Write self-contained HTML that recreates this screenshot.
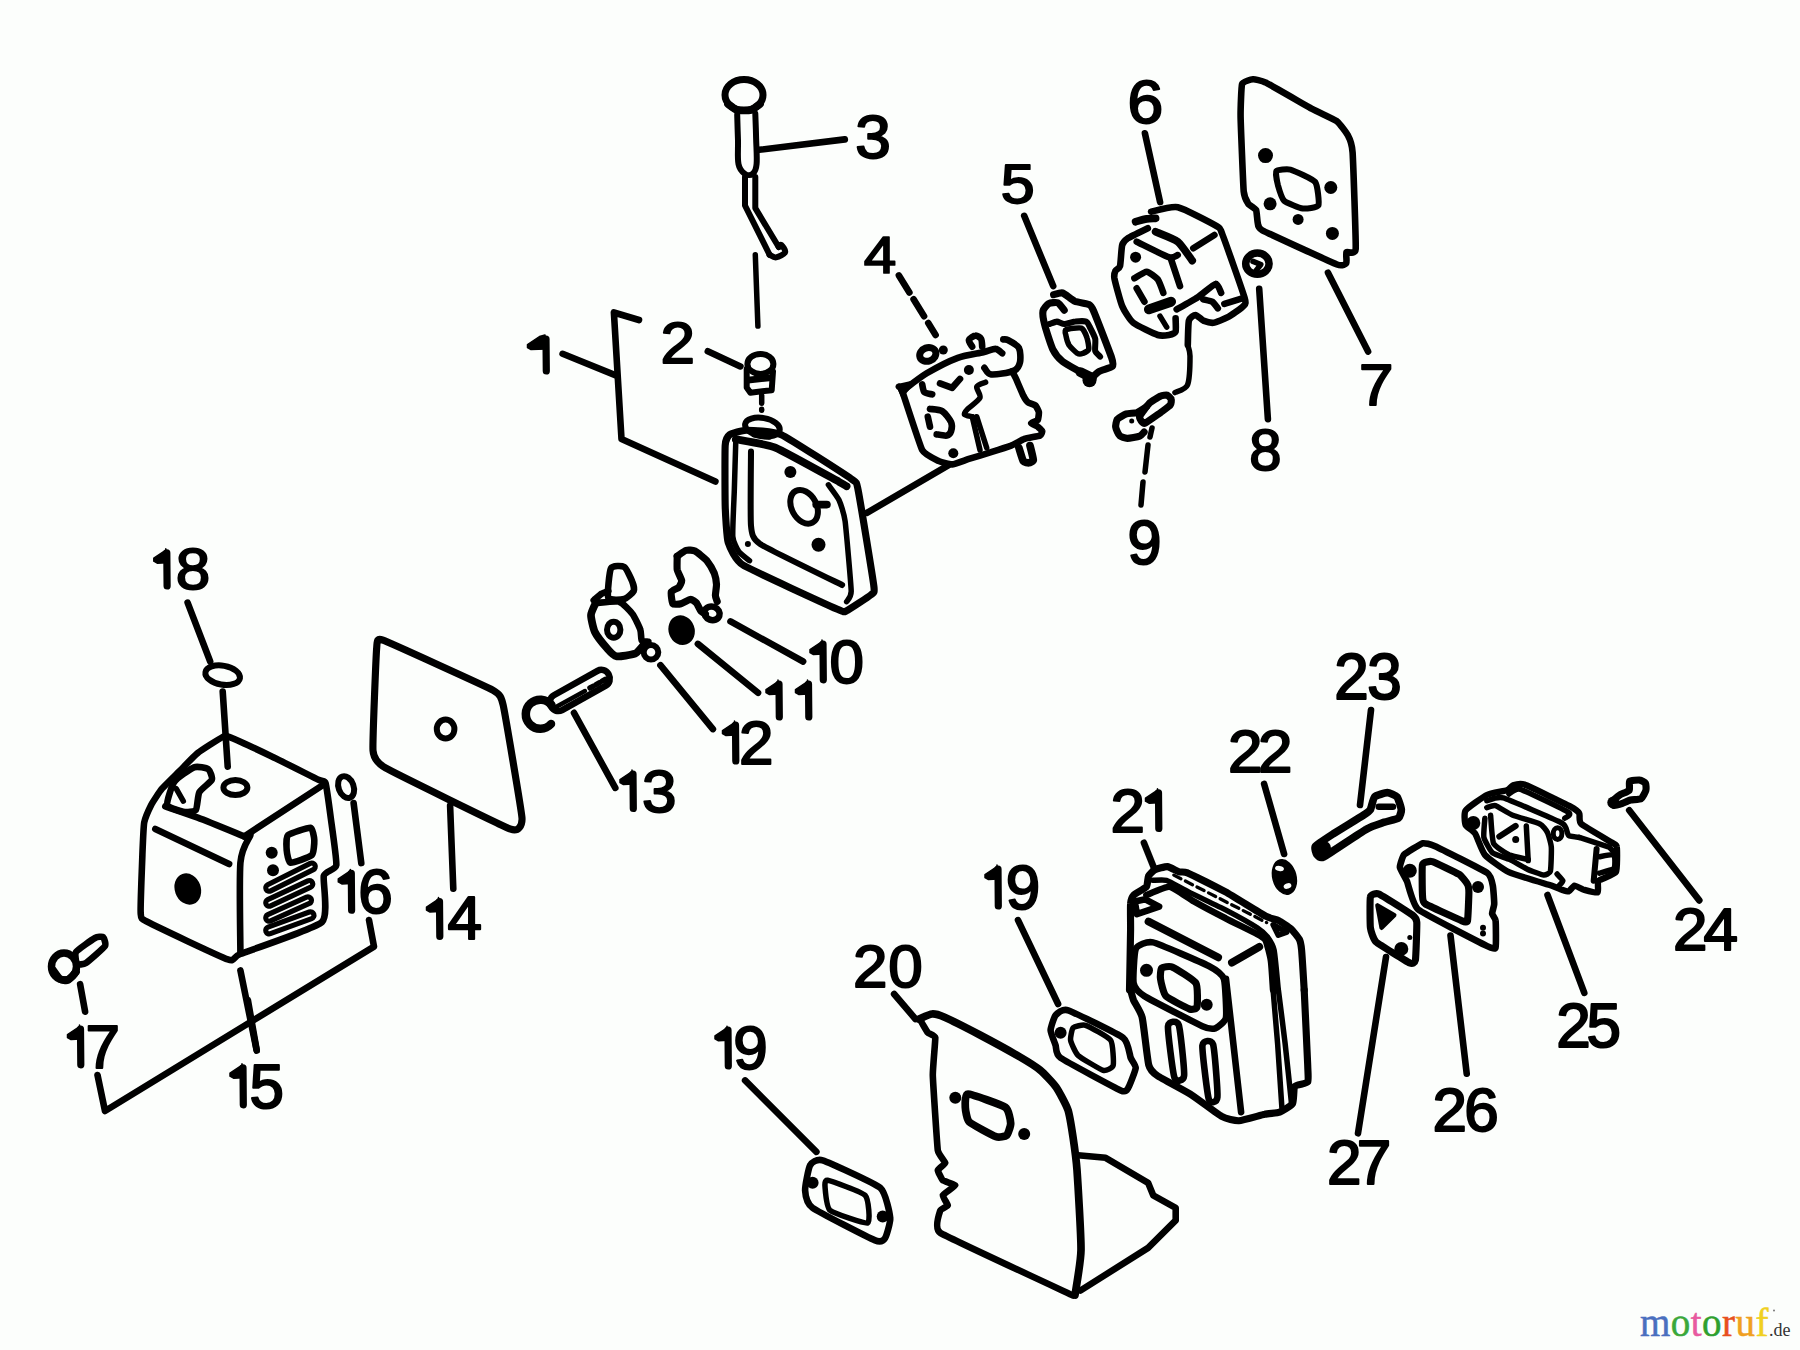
<!DOCTYPE html>
<html><head><meta charset="utf-8"><title>parts diagram</title>
<style>html,body{margin:0;padding:0;background:#fcfefc;} svg{display:block}</style></head>
<body><svg width="1800" height="1350" viewBox="0 0 1800 1350">
<rect width="1800" height="1350" fill="#fcfefc"/>
<g fill="none" stroke="#000" stroke-width="6" stroke-linecap="round" stroke-linejoin="round">
<ellipse cx="744" cy="95" rx="19" ry="15.5" transform="rotate(0 744 95)" stroke-width="7"/>
<path d="M728 104 C728.9 104.6 734.7 109.4 737 110 C739.3 110.6 748.7 110.6 751 110 C753.3 109.4 759.1 104.6 760 104" stroke-width="7.70"/>
<path d="M737.2 114.8 C737.3 119.1 737.7 132.5 738 140.7 C738.2 148.9 737.3 158.5 738.5 164.1 C739.6 169.6 742.6 172.3 745 173.9 C747.3 175.5 750.8 175.5 752.7 173.9 C754.7 172.3 756.1 170 756.6 164.1 C757.2 158.1 756.3 146.6 756.1 138.1 C755.9 129.7 755.5 117.6 755.3 113.5"/>
<path d="M745 177 L745 205.5 L769.6 254.8"/>
<path d="M755.3 177 L755.3 208.1 L778.7 247"/>
<path d="M769.6 254.8 C770.7 255.2 773.5 257.8 776.1 257.4 C778.7 256.9 784.3 254.3 785.1 252.2 C786 250.1 782.3 245.8 781.2 244.9 C780.2 244.1 779.1 246.7 778.7 247"/>
<path d="M759.2 149.8 L844.8 139.4" stroke-width="6.60"/>
<path d="M755.3 254.8 L757.9 326.1" stroke-width="5.50"/>
<ellipse cx="760.4" cy="363.9" rx="13" ry="10" transform="rotate(0 760.4 363.9)"/>
<path d="M746.7 368.9 L746.7 387.6 L750.4 392.7 L771.7 390.2 L773 371.4"/>
<path d="M747.9 380.1 L771.7 377.6" stroke-width="6.60"/>
<path d="M761.7 395.2 L761.7 410.2" stroke-width="5.50" stroke-dasharray="8 6"/>
<path d="M707.8 351.3 L740.4 366.4" stroke-width="6.60"/>
<path d="M562.6 353.8 L615.2 375.1" stroke-width="6.60"/>
<path d="M639 320 L613.9 312.5 L621.5 439 L715.4 481.6" stroke-width="6.60"/>
<path d="M729.7 434.7 C731.3 433.6 742.6 430.2 746.4 430.2 C750.3 430.2 773.5 431.1 781.3 434.7 C789.2 438.4 845.4 474.7 851.2 478.8 C856.9 482.8 856.3 481.3 858 489.4 C859.7 497.5 873 578.6 873.9 586.5 C874.9 594.4 872.9 593 870.9 594.9 C868.8 596.7 849.1 609.7 846.6 610.8 C844.1 611.9 845.2 612.7 837.5 609.3 C829.8 605.9 751.6 570.3 743.4 565.3 C735.2 560.3 729.6 546.9 728.2 542.5 C726.8 538.1 725.4 513.4 725.2 506.1 C725 498.8 724.8 450.7 725.2 445.4 C725.5 440 728.1 435.9 729.7 434.7 Z" stroke-width="7.15"/>
<path d="M735.8 440.8 C735.7 445 734.5 482.9 734.3 490.9 C734 498.9 732.4 531.4 732.8 536.4 C733.1 541.5 737.4 549.6 738.8 551.6 C740.2 553.6 748.6 560 749.5 560.7" stroke-width="5.50"/>
<path d="M735.8 439.3 C739.1 440 766.7 444.1 775.3 447.6 C783.9 451.2 833.1 478.6 839 481.8 C845 485 846 486 846.6 486.3" stroke-width="7.70"/>
<path d="M828.4 484.8 C829.3 486.1 837.6 497 839 500 C840.4 503 844.1 513.7 845.1 521.2 C846.1 528.8 851 584.4 851.2 591.1 C851.3 597.8 847 600.8 846.6 601.7" stroke-width="5.50"/>
<path d="M751 451.4 C751 457.6 750.2 518.1 751 525.8 C751.7 533.5 752.5 539.1 760.1 544 C767.7 549 835.2 581.6 842.1 585" stroke-width="6.05"/>
<ellipse cx="804.1" cy="506.8" rx="12.4" ry="17.9" transform="rotate(-28 804.1 506.8)" stroke-width="6"/>
<path d="M816.2 504.6 L826.9 504.6" stroke-width="7.70"/>
<circle cx="790.4" cy="471.9" r="6" fill="#000" stroke="none"/>
<circle cx="818.5" cy="544.8" r="7" fill="#000" stroke="none"/>
<circle cx="747.9" cy="544" r="3" fill="#000" stroke="none"/>
<ellipse cx="762.4" cy="427.1" rx="17.5" ry="9.1" transform="rotate(10 762.4 427.1)" stroke-width="6"/>
<path d="M754 434.7 L769.2 437" stroke-width="5.50"/>
<path d="M866.9 512.9 L948.2 465.3" stroke-width="6.60"/>
<path d="M902.2 391.1 C905.5 388.7 919.3 377.8 926.7 373.3 C934.1 368.9 950.2 360.6 957.8 357.8 C965.3 355 978.3 353.4 983.3 352.2 C988.4 351 993 348.7 995.6 348.9 C998.1 349 1001.3 352.7 1002.2 353.3" stroke-width="6.60"/>
<path d="M898.9 386.7 C899.1 387 900.7 386.9 902.2 391.1 C903.8 395.3 919.8 445.3 922.2 450 C924.7 454.7 936.9 460.1 938.9 461.1 C940.9 462.1 950.2 464.6 952.2 464.4 C954.2 464.3 966.3 459.7 968.9 458.9 C971.5 458.1 988.3 453.1 991.1 452.2 C993.9 451.3 1008.9 446.4 1011.1 445.6 C1013.3 444.7 1022.5 439.6 1024.4 438.9 C1026.4 438.2 1038.8 436.1 1040 435.6 C1041.2 435 1042.4 431.7 1042.2 431.1 C1042.1 430.5 1038.5 427.2 1037.8 426.7 C1037 426.1 1031.1 423.8 1031.1 423.3 C1031.1 422.9 1037.3 420.7 1037.8 420 C1038.3 419.3 1039 413.2 1038.9 412.2 C1038.7 411.3 1036.3 406.2 1035.6 405.6 C1034.8 404.9 1028.6 402.9 1027.8 402.2 C1027 401.6 1024.1 397.2 1023.3 395.6 C1022.5 393.9 1016.3 379.4 1015.6 377.8 C1014.8 376.1 1012.4 371.6 1012.2 371.1" stroke-width="6.60"/>
<path d="M897.8 385.6 L913.3 382.2 L902.2 395.6 Z" stroke-width="3.30" fill="#000"/>
<path d="M984.4 367.8 C985.3 368.7 987.3 374 991.1 374.4 C995 374.9 1009.5 372.7 1013.3 371.1 C1017.2 369.5 1019.3 365.3 1020 362.2 C1020.7 359.1 1020.5 350.7 1018.9 347.8 C1017.3 344.8 1009.9 341.1 1007.8 340 C1005.7 338.9 1003.9 339.5 1003.3 339.4" stroke-width="6.60"/>
<path d="M972.2 346.7 C971.8 345.8 968.4 341.5 968.9 340 C969.3 338.5 973.9 335.7 975.6 335.6 C977.2 335.4 980.2 337.4 981.1 338.9 C982 340.4 982.1 345.6 982.2 346.7" stroke-width="6.60"/>
<ellipse cx="927.8" cy="354.4" rx="8.3" ry="6.7" transform="rotate(-20 927.8 354.4)" stroke-width="7"/>
<circle cx="943.3" cy="350" r="4.5" fill="#000" stroke="none"/>
<path d="M930 408.9 C931.6 409.2 939.4 409.3 942.2 411.1 C945 412.9 949.9 419.6 951.1 422.2 C952.3 424.9 951.7 429.3 951.1 431.1 C950.5 432.9 948.6 435.1 946.7 435.6 C944.7 436 938 434.6 936.7 434.4" stroke-width="6.60"/>
<path d="M927.8 416.7 L930 426.7" stroke-width="6.60"/>
<path d="M985.6 382.2 C984.4 382.8 977.4 384.6 976.7 386.7 C975.9 388.7 981.2 394.8 980 397.8 C978.8 400.7 969.9 406.7 967.8 408.9 C965.7 411.1 963.9 413.4 964.4 414.4 C965 415.5 971.2 416.4 972.2 416.7" stroke-width="5.50"/>
<path d="M972.2 416.7 L980 450" stroke-width="5.50"/>
<path d="M976.7 416.7 L986.7 447.8" stroke-width="5.50"/>
<path d="M940 383.3 L952.2 387.8 L960 378.9" stroke-width="6.60"/>
<path d="M922.2 384.4 C922.5 385.5 923.1 390.9 924.4 392.2 C925.8 393.6 931.2 394.1 932.2 394.4" stroke-width="6.60"/>
<circle cx="968.9" cy="370" r="5" fill="#000" stroke="none"/>
<circle cx="953.3" cy="453.3" r="5" fill="#000" stroke="none"/>
<path d="M1018.9 447.8 C1019.3 448.9 1022.5 459.9 1023.3 461.1 C1024.2 462.4 1028.1 462.9 1028.9 462.8 C1029.7 462.7 1033.2 461.4 1033.3 460 C1033.4 458.6 1030.3 446.8 1030 445.6" stroke-width="7.70"/>
<path d="M898.9 275.4 L935.6 335" stroke-width="6.60" stroke-dasharray="20 8"/>
<path d="M1053.6 294.7 C1054.5 294.5 1060.5 292.4 1062.6 293 C1064.7 293.7 1072.2 300 1074.8 301.2 C1077.4 302.3 1086.8 303.5 1088.7 304.4 C1090.6 305.4 1091.3 305.7 1093.6 311 C1095.9 316.3 1109.6 351.9 1111.5 357.4 C1113.4 363 1113.5 365 1112.3 366.4 C1111.1 367.8 1101.3 370.1 1099.3 371.3 C1097.2 372.4 1092.7 377.1 1091.9 377.8" stroke-width="7.15"/>
<path d="M1080.5 372.1 C1078.7 371 1065.4 363.8 1062.6 361.5 C1059.8 359.2 1054.6 352.9 1052.8 349.3 C1051 345.6 1045.6 328.7 1044.7 324.8 C1043.7 321 1042.6 313.1 1043 311 C1043.4 308.9 1047.3 304.4 1048.7 303.6 C1050.2 302.8 1056.2 302.2 1057.7 302.8 C1059.3 303.5 1063.6 309.4 1064.2 310.2" stroke-width="7.15"/>
<path d="M1049.6 324 C1050.3 323.8 1055.4 321.6 1056.9 321.6 C1058.4 321.6 1062.4 324 1064.2 324 C1066.1 324 1073.4 321.8 1075.6 321.6 C1077.8 321.3 1084.8 321.1 1086.2 321.6 C1087.6 322.1 1088.6 324.7 1089.5 326.5 C1090.4 328.2 1094.6 336.2 1095.2 338.7 C1095.8 341.1 1094.7 349.1 1095.2 350.9 C1095.7 352.7 1099.6 356 1100.1 356.6" stroke-width="6.05"/>
<path d="M1065.9 329.7 C1067.4 329 1079.2 327.3 1081.3 328.1 C1083.5 328.9 1086.3 335.7 1087 337.9 C1087.8 340 1089.1 347.7 1088.7 349.3 C1088.3 350.8 1084.1 352.9 1083 353.3 C1081.8 353.8 1078.7 354.2 1077.3 353.3 C1075.9 352.5 1070.3 347 1069.1 345.2 C1068 343.4 1066.2 337 1065.9 335.4 C1065.5 333.9 1064.3 330.4 1065.9 329.7 Z" stroke-width="5.50"/>
<circle cx="1089.5" cy="380.2" r="7" fill="#000" stroke="none"/>
<path d="M1080.5 372.1 L1091.9 377.8" stroke-width="9.90"/>
<path d="M1024.2 215.8 L1053.2 286.1" stroke-width="6.60"/>
<path d="M1151.1 211.7 C1153.8 211.2 1171.2 205.8 1177.8 207.2 C1184.3 208.7 1212.2 223.4 1216.7 226.1 C1221.1 228.8 1219.4 226.8 1222.2 233.9 C1225 241 1242.3 290 1244.4 297.2 C1246.6 304.4 1245 304.1 1243.3 306.1 C1241.7 308.1 1230.8 315.6 1227.8 317.2 C1224.8 318.9 1215.8 322.4 1213.3 322.8 C1210.9 323.1 1205.1 321.3 1203.3 320.6 C1201.6 319.8 1197 315 1195.6 315 C1194.1 315 1189.7 317.6 1188.9 320.6 C1188.1 323.6 1187.9 342.6 1187.8 345" stroke-width="6.60"/>
<path d="M1147.8 228.3 C1145.8 229.3 1130.3 236.7 1127.8 238.3 C1125.2 240 1123 242.2 1122.2 245 C1121.4 247.8 1120.7 263.6 1120 266.1 C1119.3 268.7 1116.1 269.3 1115.6 270.6 C1115 271.8 1113.8 274.8 1114.4 278.3 C1115.1 281.9 1120.3 301.7 1122.2 306.1 C1124.1 310.6 1129.8 319.9 1133.3 322.8 C1136.9 325.7 1154.2 333.8 1157.8 335 C1161.3 336.2 1167.1 335.3 1168.9 335 C1170.7 334.7 1174.9 333.3 1175.6 331.7 C1176.2 330 1175.6 319.7 1175.6 318.3" stroke-width="6.60"/>
<path d="M1135.6 221.7 C1136.7 221.4 1144.7 219.2 1146.7 218.9 C1148.7 218.6 1154.7 218.4 1155.6 218.3" stroke-width="7.70"/>
<path d="M1136.7 241.7 C1139.9 243.2 1164.8 255.9 1168.9 257.2 C1173 258.6 1176.9 255.2 1177.8 255" stroke-width="6.60"/>
<path d="M1155.6 231.7 C1157.8 232.7 1174.1 238.8 1177.8 241.7 C1181.4 244.6 1190.8 258.7 1192.2 260.6" stroke-width="7.70"/>
<path d="M1193.3 248.3 L1214.4 235" stroke-width="6.60"/>
<path d="M1171.1 259.4 L1180 286.1" stroke-width="6.60"/>
<circle cx="1135.6" cy="257.2" r="5.5" fill="#000" stroke="none"/>
<path d="M1134.4 278.3 C1135.7 277.7 1144.3 271.6 1146.7 271.7 C1149 271.8 1156.1 277.3 1157.8 279.4 C1159.4 281.6 1162.8 291.4 1163.3 292.8" stroke-width="6.60"/>
<path d="M1136.7 288.3 L1144.4 301.7" stroke-width="6.60"/>
<path d="M1176.7 309.4 C1178.8 308.2 1193.9 299.8 1197.8 297.2 C1201.7 294.7 1213.2 284.3 1215.6 283.9 C1217.9 283.4 1220.6 291.9 1221.1 292.8" stroke-width="6.60"/>
<path d="M1203.3 299.4 C1204.2 299.7 1210.8 300.8 1212.2 301.7 C1213.7 302.6 1217.2 307.7 1217.8 308.3" stroke-width="6.60"/>
<path d="M1224.4 303.9 L1242.2 298.3" stroke-width="6.60"/>
<path d="M1148.9 309.4 L1171.1 301.7" stroke-width="9.90"/>
<path d="M1160 316.1 L1166.7 327.2" stroke-width="5.50"/>
<path d="M1187.8 345 C1188.1 346.5 1190 350.7 1190 356 C1190 361.3 1189.5 380.1 1187.5 385 C1185.5 389.9 1176.7 391.5 1175 392.5" stroke-width="5.50"/>
<path d="M1144.9 133.3 L1160.1 202.1" stroke-width="6.60"/>
<path d="M1144.1 432.1 C1143.7 432.5 1141.4 435.5 1139.7 436.1 C1138 436.7 1129.2 438.4 1127.2 438.3 C1125.2 438.3 1120.8 436.8 1119.7 435.7 C1118.5 434.6 1115.9 428.9 1115.7 427.2 C1115.4 425.6 1116.4 420.6 1117.4 419.2 C1118.5 417.9 1124.4 414.6 1126.3 413.9 C1128.3 413.2 1135 413.3 1137 412.6 C1139 411.8 1145.4 407.4 1146.3 406.8" stroke-width="7.15"/>
<path d="M1149.4 403.2 C1151.2 401.6 1159.1 396.8 1160.6 396.1 C1162 395.4 1166.3 395 1167.2 395.2 C1168.1 395.5 1171 398.4 1171.2 399.2 C1171.5 400 1171.2 403.9 1170.3 405 C1169.4 406.1 1162.7 411 1160.6 412.6 C1158.4 414.1 1146.6 422.6 1145 423.2 C1143.4 423.9 1141.4 421.1 1141 420.6 C1140.6 420 1139 417.6 1139.7 416.1 C1140.4 414.7 1147.7 404.9 1149.4 403.2 Z" stroke-width="7.15"/>
<circle cx="1131.7" cy="421" r="2.5" fill="#000" stroke="none"/>
<path d="M1152 428 L1150 437" stroke-width="5.50"/>
<path d="M1148 445 L1145 472" stroke-width="5.50"/>
<path d="M1143 482 L1141 505" stroke-width="5.50"/>
<ellipse cx="1257.4" cy="263.7" rx="11.7" ry="10.6" transform="rotate(0 1257.4 263.7)" stroke-width="7.5"/>
<path d="M1253 261.4 L1260.8 264.5 L1256.1 270.7" stroke-width="5.50"/>
<path d="M1259.2 288.9 L1267.9 419.1" stroke-width="6.60"/>
<path d="M1328 272.7 L1368.1 351.5" stroke-width="6.60"/>
<path d="M1242.1 84 C1242.9 81.5 1251.5 79.4 1253 79.3 C1254.6 79.2 1261.5 80.5 1265.5 82.4 C1269.4 84.4 1307.4 106.3 1312.1 108.9 C1316.9 111.5 1334.6 119.6 1337 121.3 C1339.4 123.1 1346.9 133.3 1347.9 135.4 C1349 137.4 1352.1 144.9 1352.6 152.5 C1353.1 160 1356.1 242.3 1355.7 248.9 C1355.3 255.6 1347 251.1 1346.4 252.1 C1345.7 253 1347 262.1 1346.4 262.9 C1345.7 263.8 1342.6 266.7 1337 264.5 C1331.4 262.3 1267.6 233.1 1262.3 230.3 C1257.1 227.5 1258.1 223.8 1257.7 222.5 C1257.3 221.1 1256.7 211.3 1256.1 210 C1255.5 208.8 1249.2 205.1 1248.3 203.8 C1247.5 202.6 1244.2 197.2 1243.7 191.4 C1243.2 185.6 1240.7 123.8 1240.6 116.7 C1240.5 109.5 1241.3 86.5 1242.1 84 Z" stroke-width="6.60"/>
<circle cx="1265.5" cy="155.6" r="7.5" fill="#000" stroke="none"/>
<circle cx="1330.8" cy="187.5" r="6.5" fill="#000" stroke="none"/>
<circle cx="1270.1" cy="203.8" r="6.5" fill="#000" stroke="none"/>
<circle cx="1298.1" cy="219.4" r="5.5" fill="#000" stroke="none"/>
<circle cx="1332.4" cy="233.4" r="6.5" fill="#000" stroke="none"/>
<path d="M1276.3 171.1 C1277.4 169.8 1287.1 168.7 1290.4 169.6 C1293.6 170.5 1312.9 179.1 1315.2 182 C1317.6 185 1319.4 203.2 1318.4 205.4 C1317.3 207.6 1305.7 208.9 1302.8 208.5 C1299.9 208.1 1286.2 202.7 1284.1 200.7 C1282.1 198.8 1278.6 187.6 1277.9 185.1 C1277.3 182.7 1275.3 172.4 1276.3 171.1 Z" stroke-width="6.05"/>
<path d="M677.2 556.3 C678.1 555.7 684.3 550.9 686.1 550.4 C687.9 549.9 692.9 550.1 695 551.1 C697.1 552.1 704.9 558.5 706.9 560.7 C708.8 563 713.3 571 714.3 573.3 C715.2 575.7 716.4 582.2 716.5 584.4 C716.6 586.7 715.3 593.9 715.4 595.6 C715.4 597.3 717 600.9 717.2 601.5" stroke-width="7.15"/>
<path d="M677.2 556.3 C677.2 557.4 676.9 567.6 677.2 569.6 C677.6 571.7 681.5 579.3 681.7 580.7 C681.8 582.2 679.6 586.5 678.7 587.4 C677.8 588.3 671.8 590.5 671.3 591.9 C670.8 593.2 672 602.7 672.8 603.7 C673.6 604.7 679.4 604.1 680.9 603.7 C682.4 603.3 689.3 599.3 690.6 599.3 C691.9 599.2 695.6 602 696.5 603 C697.3 604 700.2 610.2 700.9 611.1 C701.7 612 705 613.8 705.4 614.1" stroke-width="7.15"/>
<ellipse cx="712" cy="613.3" rx="7.8" ry="6.7" transform="rotate(20 712 613.3)" stroke-width="6.5"/>
<ellipse cx="681.6" cy="630.2" rx="10" ry="12" transform="rotate(-20 681.6 630.2)" fill="#000"/>
<path d="M611 568.3 C612.6 565.3 622.2 565.7 624.3 567 C626.5 568.3 631.4 579.3 632.3 581.7 C633.3 584.1 634.5 589.3 633.7 591 C632.9 592.7 626.9 598.3 624.3 599 C621.8 599.7 609.7 600.7 608.3 597.7 C607 594.6 609.4 571.4 611 568.3 Z" stroke-width="6.60"/>
<path d="M593.7 600.3 C594.5 599.7 600.2 594.6 601.7 593.7 C603.1 592.7 607.7 591.3 608.3 591" stroke-width="6.60"/>
<path d="M596.3 601.7 C595.8 603 591.1 611.9 591 615 C590.9 618.1 593.4 629 595 632.3 C596.6 635.7 604.9 645.9 607 648.3 C609.1 650.7 613.5 655.8 616.3 656.3 C619.1 656.9 632.3 654.7 635 653.7 C637.7 652.6 642.2 646.5 643 645.7" stroke-width="7.70"/>
<path d="M596.3 603 C598.6 602.9 615.4 600.6 619 601.7 C622.6 602.7 630.2 610.9 632.3 613.7 C634.5 616.5 639.4 627 640.3 629.7 C641.3 632.3 640.9 639.1 641.7 640.3 C642.5 641.5 647.7 641.5 648.3 641.7" stroke-width="6.60"/>
<ellipse cx="613.7" cy="629.7" rx="6.7" ry="8" transform="rotate(0 613.7 629.7)" stroke-width="6"/>
<ellipse cx="651" cy="652.3" rx="7.3" ry="7.3" transform="rotate(0 651 652.3)" stroke-width="6"/>
<path d="M551.5 705 A14.5 14.5 0 1 0 551 724" stroke-width="8.5"/>
<rect x="551" y="697" width="66" height="17" rx="8" transform="rotate(-29.2 553 706)" stroke-width="6.5"/>
<path d="M556 707 L585 691" stroke-width="4.40"/>
<path d="M590 688 L608 678" stroke-width="5.50" stroke-dasharray="4 3"/>
<path d="M730.5 621.4 L803.1 661.5" stroke-width="6.60"/>
<path d="M697.9 643.9 L758 692.8" stroke-width="6.60"/>
<path d="M660.4 665.2 L712.9 729.1" stroke-width="6.60"/>
<path d="M574 712.8 L615.3 787.9" stroke-width="6.60"/>
<path d="M383 640.2 C389.8 642.7 486.1 686.5 493.2 690.3 C500.2 694.1 501.5 697.8 503.2 705.3 C504.9 712.7 521.5 810.7 522 818 C522.4 825.2 518.6 832.2 510.7 829.2 C502.7 826.3 393.5 772.5 385.5 767.9 C377.4 763.3 373.5 757.4 373 750.4 C372.4 743.4 376.1 654.1 376.7 647.7 C377.3 641.3 376.2 637.7 383 640.2 Z" stroke-width="7.15"/>
<ellipse cx="445.6" cy="729.1" rx="8.8" ry="9.5" transform="rotate(0 445.6 729.1)"/>
<path d="M450.1 805.6 L453.3 888.6" stroke-width="6.60"/>
<ellipse cx="222.7" cy="675.2" rx="17.5" ry="9.5" transform="rotate(10 222.7 675.2)"/>
<path d="M187.6 602.6 L210.2 661.5" stroke-width="6.60"/>
<path d="M222.7 691.5 L227.7 766.6" stroke-width="6.60"/>
<path d="M222.5 737.1 C219.8 738.4 201.1 750.3 197.6 753.1 C194 755.9 182.8 767.9 179.8 770.9 C176.8 773.9 164.4 785.9 162 788.7 C159.6 791.5 152.8 801.9 151.3 804.7 C149.9 807.5 145 818.3 144.2 822.5 C143.5 826.6 142.7 846.9 142.4 854.5 C142.2 862 140.2 907.5 140.7 913.1 C141.1 918.8 140.5 918.2 147.8 922 C155 925.9 220.1 956.7 227.8 959.4 C235.5 962 232.4 957.2 240.2 954 C248.1 950.9 315.1 928.6 322 922 C329 915.5 322.6 880.6 323.8 875.8 C325 871.1 335.7 869.9 336.3 865.1 C336.9 860.4 331.8 825.7 330.9 818.9 C330 812.1 326.6 786.6 325.6 783.3 C324.6 780.1 322.9 782 318.5 779.8 C314 777.6 279.7 760.2 272.3 756.7 C264.8 753.1 233.7 738.7 229.6 737.1 C225.4 735.5 225.1 735.8 222.5 737.1 Z" stroke-width="6.60"/>
<path d="M165.3 806.4 C169.6 807.9 187.3 813.7 197.8 817.7 C208.3 821.7 238 833.9 244.2 836.4" stroke-width="6.60"/>
<path d="M244.2 836.4 L323 785.1" stroke-width="6.60"/>
<path d="M250.4 835.2 C249.1 838.9 241.7 847 240.4 862.7 C239.1 878.4 240.4 940.9 240.4 952.9" stroke-width="6.60"/>
<path d="M155.3 828.9 L229.1 864" stroke-width="6.60"/>
<ellipse cx="187.8" cy="889" rx="10" ry="13" transform="rotate(-20 187.8 889)" fill="#000"/>
<ellipse cx="235.4" cy="787.6" rx="12" ry="7.5" transform="rotate(0 235.4 787.6)" stroke-width="6"/>
<path d="M167.3 804.7 C166.5 801.7 171.8 785.3 174.5 781.6 C177.1 777.8 190.6 768.6 194 767.3 C197.4 766.1 206.5 767.9 208.2 769.1 C210 770.4 212.7 777.5 211.8 779.8 C210.9 782.1 200.9 789.2 199.3 792.2 C197.7 795.3 197.4 808.1 195.8 810 C194.2 812 186.2 812.3 183.3 811.8 C180.5 811.3 168.2 807.7 167.3 804.7 Z" stroke-width="6.60"/>
<path d="M176.2 788.7 L183.3 801.1" stroke-width="5.50"/>
<path d="M288 835.2 C290 833.3 308.3 827.3 310.5 827.7 C312.7 828.1 314.2 837.9 314.3 840.2 C314.4 842.5 313.8 853.3 311.8 855.2 C309.8 857.1 292.6 863.2 290.5 862.7 C288.4 862.3 286.9 852.5 286.7 850.2 C286.5 847.9 286 837.1 288 835.2 Z" stroke-width="6.60"/>
<circle cx="271.7" cy="852.7" r="6" fill="#000" stroke="none"/>
<circle cx="273" cy="870.3" r="6" fill="#000" stroke="none"/>
<path d="M269.2 887.8 L311.8 866.5" stroke-width="12.10"/>
<path d="M269.2 887.8 L311.8 866.5" stroke-width="1.76" stroke="#fcfefc"/>
<path d="M269.2 902.8 L309.3 884" stroke-width="12.10"/>
<path d="M269.2 902.8 L309.3 884" stroke-width="1.76" stroke="#fcfefc"/>
<path d="M269.2 917.8 L308 900.3" stroke-width="12.10"/>
<path d="M269.2 917.8 L308 900.3" stroke-width="1.76" stroke="#fcfefc"/>
<path d="M269.2 930.4 L310.5 915.3" stroke-width="12.10"/>
<path d="M269.2 930.4 L310.5 915.3" stroke-width="1.76" stroke="#fcfefc"/>
<ellipse cx="346.1" cy="787.1" rx="7.5" ry="11.3" transform="rotate(-20 346.1 787.1)" stroke-width="6"/>
<path d="M353.6 803 L361.3 863.1" stroke-width="6.60"/>
<path d="M369 920 L374 946.6 L105 1111 L97.5 1075" stroke-width="6.60"/>
<path d="M240.4 970.4 L256.7 1050.6" stroke-width="6.60"/>
<path d="M247.9 1000 L256.7 1050.1" stroke-width="6.60"/>
<ellipse cx="64" cy="966.5" rx="12.5" ry="13.5" transform="rotate(0 64 966.5)" stroke-width="7.5"/>
<path d="M53 970 C53.7 970.9 58.5 978 60 979 C61.5 980 66.4 980.7 68 980 C69.6 979.3 75.2 972.8 76 972" stroke-width="7.70"/>
<path d="M76 952 C77.5 949.8 92.8 939.2 95 938 C97.2 936.8 102.2 936.3 103 937 C103.8 937.7 106.4 943.8 105 946 C103.6 948.2 88.3 961.5 86 963 C83.7 964.5 77.8 964.9 77 964 C76.2 963.1 74.5 954.2 76 952 Z" stroke-width="6.60"/>
<path d="M80.1 984.2 L85.1 1011.7" stroke-width="6.60"/>
<path d="M1055.6 1015.3 C1057.1 1013.6 1062.5 1008.4 1068.1 1010.3 C1073.7 1012.2 1118 1033.9 1123.2 1037.8 C1128.4 1041.8 1129.7 1055.4 1130.7 1057.9 C1131.8 1060.4 1135.9 1065.4 1135.7 1067.9 C1135.5 1070.4 1129.5 1086 1128.2 1087.9 C1127 1089.8 1126.3 1092.9 1120.7 1090.4 C1115.1 1087.9 1066 1061.6 1060.6 1057.9 C1055.2 1054.1 1056.4 1047.6 1055.6 1045.3 C1054.8 1043 1050.6 1032.8 1050.6 1030.3 C1050.6 1027.8 1054.1 1017 1055.6 1015.3 Z" stroke-width="6.60"/>
<path d="M1073.1 1027.8 C1074.4 1026.6 1082.5 1024.3 1085.6 1025.3 C1088.8 1026.4 1108.4 1037 1110.7 1040.3 C1113 1043.7 1113.8 1062.9 1113.2 1065.4 C1112.6 1067.9 1106.1 1071.2 1103.2 1070.4 C1100.3 1069.5 1080.8 1057.9 1078.1 1055.4 C1075.4 1052.9 1071 1042.6 1070.6 1040.3 C1070.2 1038 1071.9 1029.1 1073.1 1027.8 Z" stroke-width="5.50"/>
<circle cx="1060.6" cy="1032.8" r="6" fill="#000" stroke="none"/>
<path d="M1018 920.1 L1058.1 1004" stroke-width="6.60"/>
<path d="M919 1019 C920.3 1018.5 929.5 1014.2 932 1014 C934.5 1013.8 939.2 1014.9 944 1017 C948.8 1019.1 972.4 1031 980 1035 C987.6 1039 1014 1053.5 1020 1057 C1026 1060.5 1036.4 1067 1040 1070 C1043.6 1073 1053.2 1083 1056 1087 C1058.8 1091 1066.3 1105 1068 1110 C1069.7 1115 1072.1 1131 1073 1137 C1073.9 1143 1076.2 1158.7 1077 1170 C1077.8 1181.3 1081.2 1237.5 1081 1250 C1080.8 1262.5 1075.6 1290.5 1075 1295" stroke-width="7.70"/>
<path d="M1073 1295.5 C1066.4 1292.4 946.9 1237.1 940.3 1232.9 C933.7 1228.6 939.9 1211.7 940.3 1210.4 C940.7 1209 947.7 1206.1 947.8 1205.3 C947.9 1204.6 942.4 1196.3 942.8 1195.3 C943.2 1194.3 955.3 1186.1 955.3 1185.3 C955.3 1184.6 943.7 1181.1 942.8 1180.3 C941.9 1179.5 937.7 1171.2 937.8 1170.3 C937.9 1169.4 945.3 1163.8 945.3 1162.8 C945.3 1161.8 938.4 1154.6 937.8 1150.3 C937.2 1145.9 932.9 1080.8 932.8 1075.1 C932.7 1069.5 935.5 1039.7 935.3 1037.6 C935 1035.4 928.5 1033.4 927.8 1032.6 C927 1031.7 920.6 1020.7 920.3 1020" stroke-width="6.60"/>
<path d="M1078 1155.3 L1105.6 1157.8 L1148.1 1182.8 L1153.2 1195.3 L1175.7 1207.8 L1175.7 1220.4 L1148.1 1247.9 L1080.5 1290.5" stroke-width="6.60"/>
<path d="M968 1094 C971.3 1094 1001.8 1104.9 1005.3 1107.3 C1008.9 1109.8 1010.6 1121 1010.7 1123.3 C1010.8 1125.7 1007.9 1134.2 1006.7 1135.3 C1005.4 1136.4 999.1 1137.8 996 1136.7 C992.9 1135.6 971.9 1124.4 969.3 1122 C966.8 1119.6 965.4 1109.7 965.3 1107.3 C965.2 1105 964.7 1094 968 1094 Z" stroke-width="7.70"/>
<circle cx="955.3" cy="1097.7" r="6" fill="#000" stroke="none"/>
<circle cx="1024.2" cy="1134" r="6" fill="#000" stroke="none"/>
<path d="M894.1 994 L915.4 1019" stroke-width="6.60"/>
<path d="M810.1 1165.3 C811.5 1162.8 816.8 1158.4 822.6 1160.3 C828.4 1162.1 874.6 1183 880.2 1187.8 C885.8 1192.6 889.8 1213.7 890.2 1217.9 C890.6 1222 886.5 1236 885.2 1237.9 C884 1239.8 881.2 1242.9 875.2 1240.4 C869.1 1237.9 818.4 1212 812.6 1207.8 C806.7 1203.7 805.3 1193.9 805.1 1190.3 C804.9 1186.8 808.6 1167.8 810.1 1165.3 Z" stroke-width="6.60"/>
<path d="M827.6 1180.3 C831 1180.9 861.8 1191.8 865.2 1195.3 C868.5 1198.9 870.6 1221.6 867.7 1222.9 C864.8 1224.1 833.7 1213.3 830.1 1210.4 C826.6 1207.4 825.3 1190.3 825.1 1187.8 C824.9 1185.3 824.3 1179.7 827.6 1180.3 Z" stroke-width="5.50"/>
<circle cx="812.6" cy="1182.8" r="6" fill="#000" stroke="none"/>
<circle cx="882.7" cy="1216.6" r="6" fill="#000" stroke="none"/>
<path d="M745.1 1080.4 L816.4 1151.8" stroke-width="6.60"/>
<path d="M1129.5 990 C1129.6 984.9 1130.5 936.1 1130.6 928.9 C1130.6 921.7 1130.3 906.4 1130.6 903.6 C1130.8 900.7 1132.4 896.5 1133.7 895.1 C1135 893.7 1145.2 888.2 1146.4 886.7 C1147.6 885.1 1147.8 877.5 1148.5 876.1 C1149.2 874.7 1153.2 870.6 1154.8 869.8 C1156.4 869 1165.5 866.4 1167.5 866.6 C1169.5 866.8 1177.4 871.4 1179.1 871.9 C1180.8 872.4 1183.7 871.3 1187.6 872.9 C1191.4 874.6 1219 888.3 1225.6 891.9 C1232.1 895.6 1261.3 913.8 1265.7 916.2 C1270.1 918.6 1276.2 919.4 1278.3 920.4 C1280.4 921.5 1289.2 927.3 1291 928.9 C1292.8 930.5 1298.6 937.7 1299.4 939.4 C1300.3 941.2 1301.2 945.8 1301.6 950 C1302 954.2 1304 986.7 1304.2 990" stroke-width="7.15"/>
<path d="M1130.6 990.1 C1130.9 990.9 1132.7 998.1 1133.6 1000.4 C1134.6 1002.7 1141 1012.2 1142.2 1017.6 C1143.5 1022.9 1147.4 1060 1148.7 1064.8 C1149.9 1069.7 1153.7 1073.1 1157.3 1075.6 C1160.8 1078.1 1186.3 1091.5 1191.6 1094.9 C1197 1098.3 1217.8 1114.3 1221.7 1116.4 C1225.7 1118.6 1235.3 1120.9 1238.9 1120.7 C1242.5 1120.5 1261.3 1115 1264.7 1114.3 C1268.1 1113.5 1277.4 1113 1279.7 1112.1 C1282.1 1111.2 1291.4 1105.7 1292.6 1103.5 C1293.9 1101.4 1293.5 1088.1 1294.8 1086.3 C1296 1084.5 1306.6 1083.8 1307.7 1082 C1308.7 1080.2 1307.9 1072.5 1307.7 1064.8 C1307.4 1057.2 1304.5 996.3 1304.2 990.1" stroke-width="7.15"/>
<path d="M1152.7 880.3 C1153.9 880.3 1163.5 879.4 1166.4 880.3 C1169.4 881.3 1183.7 889.5 1188.6 891.9 C1193.5 894.4 1219.8 906.9 1225.6 909.9 C1231.3 912.9 1253.7 925.5 1257.2 927.8 C1260.7 930.1 1266.4 935.5 1267.8 937.3 C1269.2 939.2 1273.2 945.6 1274.1 950 C1275 954.4 1278 986.7 1278.3 990" stroke-width="5.50"/>
<path d="M1278.4 990.1 C1279 994.5 1284 1033.9 1285.1 1043.4 C1286.2 1052.8 1291 1098.5 1291.5 1103.5" stroke-width="5.50"/>
<path d="M1173.8 875.1 L1266.7 922.6" stroke-width="3.30" stroke-dasharray="8 5"/>
<path d="M1146.4 895.1 C1148.3 894.4 1165.7 886.1 1169.6 886.7 C1173.6 887.2 1189.2 898.8 1193.9 901.4 C1198.6 904.1 1220.3 915.6 1225.6 918.3 C1230.8 921.1 1253.9 932.3 1257.2 934.2 C1260.6 936 1264.5 938.3 1265.7 940.5 C1266.8 942.7 1270.3 956.4 1270.9 960.6 C1271.6 964.7 1272.9 987.6 1273.1 990" stroke-width="6.60"/>
<path d="M1273.1 990.1 C1273.4 994.5 1276.8 1033.5 1277.6 1043.4 C1278.3 1053.2 1281.5 1102.4 1281.9 1107.8" stroke-width="5.50"/>
<path d="M1134.8 901.4 L1145.3 899.3 L1159.1 906.7 L1136.9 914.1 Z" stroke-width="6.60"/>
<path d="M1273.1 924.7 L1286.8 932.1 L1278.3 935.2 Z" stroke-width="5.50"/>
<path d="M1148.5 921.5 L1218.2 957.4" stroke-width="7.70"/>
<path d="M1231.9 962.7 L1259.3 946.8" stroke-width="7.70"/>
<path d="M1135.8 948.8 C1137.4 945.4 1146.9 941 1153 942.4 C1159.1 943.8 1202.9 963 1208.8 966 C1214.7 969.1 1222.4 974.6 1223.9 978.9 C1225.3 983.2 1226.7 1013.5 1226 1017.6 C1225.3 1021.7 1217.2 1027.6 1215.3 1028.3 C1213.3 1029 1208.3 1028.9 1202.4 1026.2 C1196.5 1023.5 1150.1 999.7 1144.4 996.1 C1138.6 992.5 1134.3 987.1 1133.6 983.2 C1132.9 979.3 1134.2 952.2 1135.8 948.8 Z" stroke-width="6.60"/>
<path d="M1161.6 968.2 C1162.5 967.2 1169.4 965.8 1172.3 967.1 C1175.2 968.3 1193.9 979.9 1195.9 983.2 C1198 986.5 1197.5 1004.7 1197 1006.8 C1196.5 1009 1192.1 1009.9 1189.5 1009 C1186.9 1008.1 1168.3 998.6 1165.9 996.1 C1163.4 993.6 1160.8 981.2 1160.5 978.9 C1160.1 976.6 1160.6 969.1 1161.6 968.2 Z" stroke-width="7.15"/>
<circle cx="1146.5" cy="970.3" r="6.5" fill="#000" stroke="none"/>
<circle cx="1206.7" cy="1004.7" r="6" fill="#000" stroke="none"/>
<path d="M1168 1026.2 C1168.4 1020.9 1177.1 1020.2 1178.8 1025.1 C1180.4 1030 1184.6 1070.3 1184.1 1075.6 C1183.7 1080.8 1176.1 1082.7 1174.5 1077.7 C1172.8 1072.8 1167.6 1031.4 1168 1026.2 Z" stroke-width="6.60"/>
<path d="M1202.4 1045.5 C1202.8 1040 1211.6 1039.3 1213.1 1044.4 C1214.6 1049.6 1217.9 1091.6 1217.4 1097.1 C1217 1102.5 1210.3 1104.4 1208.8 1099.2 C1207.3 1094.1 1202 1051 1202.4 1045.5 Z" stroke-width="6.60"/>
<path d="M1226 978.9 L1241.1 1112.1" stroke-width="6.60"/>
<path d="M1143.9 842.7 L1153.9 867.7" stroke-width="6.60"/>
<ellipse cx="1284.4" cy="877" rx="11.5" ry="17.5" transform="rotate(-15 1284.4 877)" fill="#000" stroke-width="1.5"/>
<ellipse cx="1279.5" cy="868.5" rx="4.5" ry="2.6" transform="rotate(10 1279.5 868.5)" fill="#fcfefc" stroke="none"/>
<ellipse cx="1287.5" cy="886" rx="4" ry="2.6" transform="rotate(-20 1287.5 886)" fill="#fcfefc" stroke="none"/>
<path d="M1264.1 783.9 L1284.1 854" stroke-width="6.60"/>
<path d="M1370.4 809.6 C1371.3 808 1373.2 798.3 1374.6 796.9 C1376 795.5 1385.4 792.7 1387.3 792.7 C1389.1 792.7 1395.9 795.5 1397.1 796.9 C1398.3 798.3 1401.2 807.8 1401.3 809.6 C1401.5 811.3 1399.9 816.9 1398.5 818 C1397.1 819.1 1387.1 821.3 1384.5 822.2 C1381.8 823.2 1371.2 826.4 1366.2 829.3 C1361.1 832.1 1328 854.6 1323.9 856.7 C1319.8 858.8 1317.6 855.5 1316.9 854.6 C1316.2 853.7 1314.1 847.9 1315.5 846.2 C1316.9 844.4 1329.8 836.1 1333.8 833.5 C1337.8 830.9 1360.3 817.2 1363.3 815.2 C1366.4 813.2 1369.4 811.1 1370.4 809.6 Z" stroke-width="7.70"/>
<circle cx="1324" cy="848" r="7" fill="#000" stroke="none"/>
<path d="M1378.8 806.7 L1392.9 806.7" stroke-width="6.60"/>
<path d="M1371 710 L1360 805" stroke-width="6.60"/>
<path d="M1612.1 801.7 C1612.6 800.8 1618 796.1 1619.4 795.2 C1620.9 794.2 1628.4 791.4 1629.2 790.3 C1630.1 789.1 1628.8 782.1 1629.6 781.3 C1630.5 780.4 1638.5 779.9 1639.8 780.1 C1641.1 780.2 1645 782.5 1645.5 783.3 C1646 784.2 1646.3 789 1645.9 790.3 C1645.6 791.6 1642.3 798 1641 798.8 C1639.8 799.6 1632.2 799.6 1630.4 800 C1628.7 800.5 1621.7 803.7 1620.3 804.1 C1618.8 804.6 1614 805.5 1613.3 805.3 C1612.7 805.1 1611.6 802.5 1612.1 801.7 Z" stroke-width="7.15"/>
<circle cx="1613.3" cy="802.5" r="6" fill="#000" stroke="none"/>
<path d="M1629.2 810.3 L1699.3 900.4" stroke-width="6.60"/>
<path d="M1465.6 810.5 C1467.4 808 1483.3 796.7 1486.8 795 C1490.2 793.4 1504.9 791 1507 790.2 C1509.2 789.4 1511.4 785.9 1512.8 785.4 C1514.2 784.9 1519.5 782.7 1524.4 784.5 C1529.2 786.2 1566 804.2 1570.6 806.6 C1575.2 809 1578.4 811.9 1579.3 813.4 C1580.2 814.8 1578.4 821.5 1581.2 823.9 C1584 826.4 1610 841.3 1613 843.2 C1616 845.1 1616.6 844.7 1616.8 847.1 C1617.1 849.5 1617.4 869.3 1615.9 872.1 C1614.4 874.9 1600.1 879.1 1598.5 880.8 C1597 882.5 1598.9 891.6 1597.6 892.4 C1596.3 893.1 1585.1 890 1583.1 889.5 C1581.2 888.9 1575.7 885.4 1574.5 885.6 C1573.3 885.8 1569.8 891.1 1568.7 891.4 C1567.6 891.7 1562.4 889.9 1561 889.5 C1559.5 889 1555.7 887.1 1551.3 885.6 C1547 884.2 1514.5 874.7 1508.9 872.1 C1503.4 869.6 1487.7 858 1484.9 854.8 C1482.1 851.6 1476.8 836.1 1475.2 833.6 C1473.6 831.1 1466.4 826.8 1465.6 824.9 C1464.8 823 1463.8 813 1465.6 810.5 Z" stroke-width="6.38"/>
<path d="M1508.9 794.1 C1509.9 793.7 1515.5 787.7 1520.5 789.3 C1525.5 790.8 1565 810 1568.7 812.4 C1572.4 814.8 1565.1 817.7 1564.8 818.2" stroke-width="5.50"/>
<path d="M1486.8 800.8 C1488.2 800.6 1497.1 796.2 1503.2 797.9 C1509.3 799.7 1554.8 819.5 1560 822 C1565.2 824.5 1565.1 826.7 1565.8 827.8 C1566.5 828.9 1567.6 834.7 1568.7 835.5 C1569.8 836.3 1578.4 837.3 1579.3 837.4" stroke-width="5.50"/>
<path d="M1486.8 807.6 C1487.5 807.4 1493.3 805 1495.5 805.6 C1497.6 806.3 1509.1 813.8 1512.8 815.3 C1516.5 816.8 1536.9 822.5 1539.8 823.9 C1542.7 825.4 1546.5 830.7 1547.5 832.6 C1548.4 834.5 1551.1 843.9 1551.3 847.1 C1551.6 850.3 1551 868.8 1550.4 871.2 C1549.7 873.5 1545.6 875.2 1543.6 875 C1541.7 874.8 1530.1 870.5 1527.3 869.2 C1524.4 867.9 1512.8 861 1509.9 859.6 C1507 858.2 1494.7 854.7 1492.6 852.9 C1490.4 851 1484.5 840.3 1483.9 837.4 C1483.3 834.5 1484.8 819.8 1484.9 818.2" stroke-width="5.50"/>
<path d="M1490.6 815.3 C1490.9 817.6 1492 839.9 1493.5 843.2 C1495.1 846.5 1506.1 853.4 1508.9 854.8 C1511.8 856.1 1526.6 859.2 1528.2 859.6" stroke-width="5.50"/>
<path d="M1526.3 825.9 L1528.2 860.6" stroke-width="5.50"/>
<path d="M1499.3 836.5 L1515.7 825.9" stroke-width="6.05"/>
<circle cx="1515.7" cy="839.4" r="3.5" fill="#000" stroke="none"/>
<circle cx="1473.3" cy="823" r="7" fill="#000" stroke="none"/>
<ellipse cx="1557.6" cy="833.6" rx="4.3" ry="5.8" transform="rotate(0 1557.6 833.6)" stroke-width="5"/>
<path d="M1579.3 837.4 L1609.1 847.1 L1615.9 853.8" stroke-width="5.50"/>
<path d="M1599.5 856.7 C1600.7 856.5 1612.8 853.8 1614 854.8 C1615.2 855.7 1615.2 866.7 1614 868.3 C1612.8 869.8 1600.7 872.7 1599.5 873.1" stroke-width="5.50"/>
<path d="M1557.1 874 C1557.6 874.6 1562.7 879.8 1562.9 880.8 C1563.1 881.8 1559.4 885.2 1559 885.6" stroke-width="5.50"/>
<path d="M1596.6 849 L1593.7 880.8" stroke-width="6.05"/>
<path d="M1547.5 895 L1584.3 992.8" stroke-width="6.60"/>
<path d="M1399.9 867.3 C1399.7 865.5 1402.7 856.2 1404.2 854.6 C1405.7 853 1420.4 843.9 1422.5 843.3 C1424.5 842.8 1430.8 844.2 1435.1 846.2 C1439.4 848.1 1483.4 870.3 1487.2 872.9 C1491 875.5 1492.4 883.5 1492.8 885.6 C1493.3 887.6 1494.3 902 1494.2 903.9 C1494.2 905.7 1492 912.6 1492.1 913.7 C1492.2 914.8 1495.4 918.5 1495.6 920.8 C1495.9 923 1496.2 945.8 1495.6 947.5 C1495.1 949.2 1492.4 948.6 1487.2 946.1 C1482 943.6 1423.6 913.8 1418.2 909.5 C1412.9 905.2 1408.2 884.2 1407 881.3 C1405.8 878.5 1400.1 869 1399.9 867.3 Z" stroke-width="6.60"/>
<path d="M1422.5 864.5 C1423.1 862.2 1429.9 861 1432.3 861.6 C1434.7 862.3 1456.7 872.8 1459 874.3 C1461.4 875.8 1466.8 882.9 1467.5 884.2 C1468.2 885.4 1468.9 890.2 1468.9 892.6 C1468.9 895 1468 918.9 1467.5 920.8 C1467 922.6 1464.7 921.9 1461.9 920.8 C1459 919.6 1427.9 905.5 1425.3 903.9 C1422.6 902.2 1422.6 898 1422.5 895.4 C1422.3 892.8 1421.8 866.7 1422.5 864.5 Z" stroke-width="7.15"/>
<circle cx="1409.8" cy="870.8" r="7" fill="#000" stroke="none"/>
<circle cx="1478" cy="887" r="6" fill="#000" stroke="none"/>
<circle cx="1483" cy="927.8" r="3" fill="#000" stroke="none"/>
<circle cx="1483" cy="933.4" r="3" fill="#000" stroke="none"/>
<path d="M1450.5 935.5 L1466.7 1073.7" stroke-width="6.60"/>
<path d="M1370.4 896.8 C1370.9 894.6 1376 892.8 1378.8 894 C1381.6 895.2 1410.1 913.2 1412.6 915.1 C1415.1 917 1416.6 919.2 1416.8 922.2 C1417 925.2 1415.9 957.4 1415.4 960.2 C1414.9 962.9 1412.4 964.2 1409.8 963 C1407.2 961.8 1378.6 944.2 1376 941.9 C1373.4 939.5 1370.8 930.8 1370.4 927.8 C1370 924.8 1369.8 899.1 1370.4 896.8 Z" stroke-width="7.15"/>
<path d="M1377.4 905.3 L1394.3 915.1 L1381.6 927.8 Z" stroke-width="4.40" fill="#000"/>
<circle cx="1401.3" cy="948.9" r="7" fill="#000" stroke="none"/>
<circle cx="1409.8" cy="937.6" r="2.5" fill="#000" stroke="none"/>
<path d="M1386 957 L1358 1133.3" stroke-width="6.60"/>
</g>
<g font-family="Liberation Sans, sans-serif" font-size="62" fill="#000" stroke="#000" stroke-width="2" stroke-linejoin="round">
<g fill="#000" stroke="#000" stroke-linecap="round"><path d="M546 339 L546.3 371" stroke-width="7.2" stroke-linecap="round"/><path d="M527.5 344.5 L539.5 336.5 L545 335 L546 349 L531 349.5 L527.5 347.5 Z" stroke-width="1.5" stroke-linejoin="round"/><text transform="matrix(1.0000 0 0 0.9375 660.50 362.81)" x="0" y="0">2</text><text transform="matrix(1.0312 0 0 0.9795 855.37 158.22)" x="0" y="0">3</text><text transform="matrix(0.9426 0 0 0.8409 863.75 273.16)" x="0" y="0">4</text><text transform="matrix(0.9839 0 0 0.9000 1000.83 202.70)" x="0" y="0">5</text><text transform="matrix(1.0355 0 0 0.9727 1127.53 123.23)" x="0" y="0">6</text><text transform="matrix(1.0000 0 0 0.9318 1359.00 405.07)" x="0" y="0">7</text><text transform="matrix(0.9355 0 0 0.9318 1249.13 470.07)" x="0" y="0">8</text><text transform="matrix(0.9871 0 0 1.0273 1127.43 564.47)" x="0" y="0">9</text><path d="M823 644 L823.3 679.8" stroke-width="7.2" stroke-linecap="round"/><path d="M810 649.5 L822 641.5 L822 640 L823 654 L813.5 654.5 L810 652.5 Z" stroke-width="1.5" stroke-linejoin="round"/><text transform="matrix(1.0000 0 0 0.9943 829.50 682.76)" x="0" y="0">0</text><path d="M779 684 L779.3 717" stroke-width="7.2" stroke-linecap="round"/><path d="M766 689.5 L778 681.5 L778 680 L779 694 L769.5 694.5 L766 692.5 Z" stroke-width="1.5" stroke-linejoin="round"/><path d="M808.5 684 L808.8 717" stroke-width="7.2" stroke-linecap="round"/><path d="M795.5 689.5 L807.5 681.5 L807.5 680 L808.5 694 L799 694.5 L795.5 692.5 Z" stroke-width="1.5" stroke-linejoin="round"/><path d="M735.5 725 L735.8 761" stroke-width="7.2" stroke-linecap="round"/><path d="M722.5 730.5 L734.5 722.5 L734.5 721 L735.5 735 L726 735.5 L722.5 733.5 Z" stroke-width="1.5" stroke-linejoin="round"/><text transform="matrix(1.0000 0 0 1.0000 739.00 764.00)" x="0" y="0">2</text><path d="M633 774 L633.3 808.5" stroke-width="7.2" stroke-linecap="round"/><path d="M620 779.5 L632 771.5 L632 770 L633 784 L623.5 784.5 L620 782.5 Z" stroke-width="1.5" stroke-linejoin="round"/><text transform="matrix(1.0000 0 0 0.9659 642.00 811.53)" x="0" y="0">3</text><path d="M439.5 901.6 L439.8 936.4" stroke-width="7.2" stroke-linecap="round"/><path d="M426.5 907.1 L438.5 899.1 L438.5 897.6 L439.5 911.6 L430 912.1 L426.5 910.1 Z" stroke-width="1.5" stroke-linejoin="round"/><text transform="matrix(1.0000 0 0 0.9727 447.40 939.43)" x="0" y="0">4</text><path d="M243 1067.8 L243.3 1104.8" stroke-width="7.2" stroke-linecap="round"/><path d="M230 1073.2 L242 1065.2 L242 1063.8 L243 1077.8 L233.5 1078.2 L230 1076.2 Z" stroke-width="1.5" stroke-linejoin="round"/><text transform="matrix(1.0000 0 0 1.0227 249.50 1107.73)" x="0" y="0">5</text><path d="M351.3 873.4 L351.6 910.2" stroke-width="7.2" stroke-linecap="round"/><path d="M338.3 878.9 L350.3 870.9 L350.3 869.4 L351.3 883.4 L341.8 883.9 L338.3 881.9 Z" stroke-width="1.5" stroke-linejoin="round"/><text transform="matrix(1.0000 0 0 1.0182 358.30 913.18)" x="0" y="0">6</text><path d="M80.5 1029 L80.8 1064.8" stroke-width="7.2" stroke-linecap="round"/><path d="M67.5 1034.5 L79.5 1026.5 L79.5 1025 L80.5 1039 L71 1039.5 L67.5 1037.5 Z" stroke-width="1.5" stroke-linejoin="round"/><text transform="matrix(1.0000 0 0 0.9943 85.50 1067.76)" x="0" y="0">7</text><path d="M166.8 552.8 L167.1 586" stroke-width="7.2" stroke-linecap="round"/><path d="M153.8 558.2 L165.8 550.2 L165.8 548.8 L166.8 562.8 L157.2 563.2 L153.8 561.2 Z" stroke-width="1.5" stroke-linejoin="round"/><text transform="matrix(1.0000 0 0 0.9375 175.75 589.06)" x="0" y="0">8</text><path d="M998 869 L998.3 906" stroke-width="7.2" stroke-linecap="round"/><path d="M985 874.5 L997 866.5 L997 865 L998 879 L988.5 879.5 L985 877.5 Z" stroke-width="1.5" stroke-linejoin="round"/><text transform="matrix(1.0000 0 0 1.0227 1005.75 908.98)" x="0" y="0">9</text><path d="M728 1030.2 L728.3 1066" stroke-width="7.2" stroke-linecap="round"/><path d="M715 1035.8 L727 1027.8 L727 1026.2 L728 1040.2 L718.5 1040.8 L715 1038.8 Z" stroke-width="1.5" stroke-linejoin="round"/><text transform="matrix(1.0000 0 0 0.9943 733.25 1069.01)" x="0" y="0">9</text><text transform="matrix(1.0000 0 0 0.9659 853.00 986.53)" x="0" y="0">2</text><text transform="matrix(1.0000 0 0 0.9659 888.25 986.53)" x="0" y="0">0</text><text transform="matrix(1.0000 0 0 0.9943 1110.50 831.51)" x="0" y="0">2</text><path d="M1158.5 792.8 L1158.8 828.5" stroke-width="7.2" stroke-linecap="round"/><path d="M1145.5 798.2 L1157.5 790.2 L1157.5 788.8 L1158.5 802.8 L1149 803.2 L1145.5 801.2 Z" stroke-width="1.5" stroke-linejoin="round"/><text transform="matrix(1.0000 0 0 0.9659 1228.00 771.53)" x="0" y="0">2</text><text transform="matrix(1.0000 0 0 0.9659 1258.00 771.53)" x="0" y="0">2</text><text transform="matrix(1.0000 0 0 1.0432 1334.20 698.86)" x="0" y="0">2</text><text transform="matrix(1.0000 0 0 1.0432 1367.30 698.86)" x="0" y="0">3</text><text transform="matrix(1.0000 0 0 0.9602 1673.00 950.04)" x="0" y="0">2</text><text transform="matrix(1.0000 0 0 0.9602 1703.50 950.04)" x="0" y="0">4</text><text transform="matrix(1.0000 0 0 1.0068 1556.30 1046.79)" x="0" y="0">2</text><text transform="matrix(1.0000 0 0 1.0068 1586.40 1046.79)" x="0" y="0">5</text><text transform="matrix(1.0000 0 0 0.9727 1432.60 1130.83)" x="0" y="0">2</text><text transform="matrix(1.0000 0 0 0.9727 1464.20 1130.83)" x="0" y="0">6</text><text transform="matrix(1.0000 0 0 1.0068 1327.00 1184.29)" x="0" y="0">2</text><text transform="matrix(1.0000 0 0 1.0068 1356.75 1184.29)" x="0" y="0">7</text></g>
</g>
<g font-family="Liberation Serif, serif" font-size="39">
<text x="1640" y="1335.5" letter-spacing="0.45" stroke-width="0.5" style="paint-order:stroke"><tspan fill="#4a6fbf" stroke="#4a6fbf">m</tspan><tspan fill="#3aa83a" stroke="#3aa83a">o</tspan><tspan fill="#e85aa0" stroke="#e85aa0">t</tspan><tspan fill="#2ea02e" stroke="#2ea02e">o</tspan><tspan fill="#e8501e" stroke="#e8501e">r</tspan><tspan fill="#f0a020" stroke="#f0a020">u</tspan><tspan fill="#f0d020" stroke="#f0d020">f</tspan></text>
<text x="1769" y="1335.5" font-size="18" fill="#333">.de</text><circle cx="1774" cy="1310.5" r="1" fill="#777"/></g>
</svg></body></html>
